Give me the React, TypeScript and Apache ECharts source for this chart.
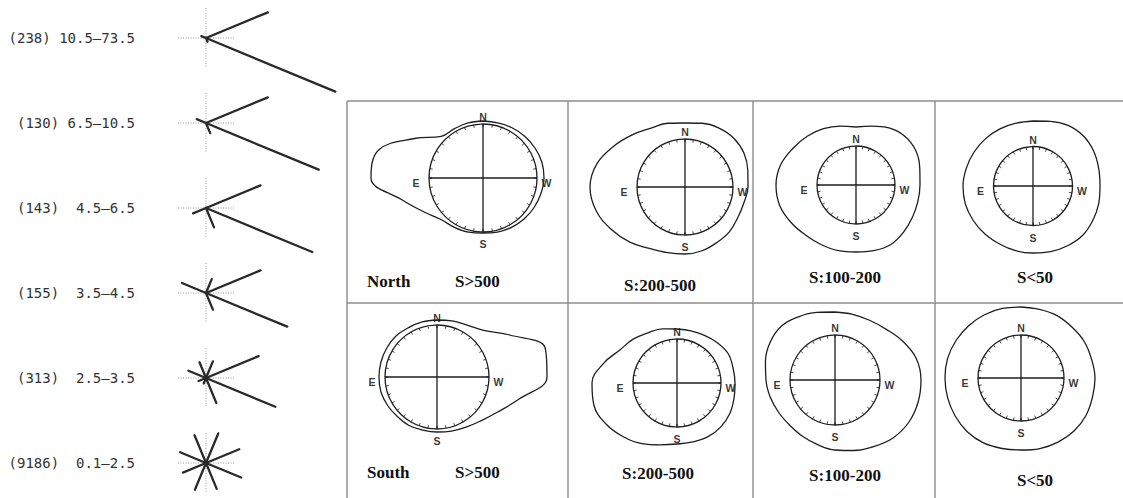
import React, { useEffect, useRef } from "react";
import * as echarts from "echarts";

// ---------- data ----------
const classCounts = [238, 130, 143, 155, 313, 9186];
const classRanges = ["10.5–73.5", "6.5–10.5", "4.5–6.5", "3.5–4.5", "2.5–3.5", "0.1–2.5"];
const spokeDirections = [22.5, 67.5, 112.5, 157.5, 202.5, 247.5, 292.5, 337.5];
const spokes1 = [67, 0, 0, 5, 0, 0, 4, 140];
const spokes2 = [67, 0, 0, 10, 0, 0, 11, 122];
const spokes3 = [59, 0, 0, 0, 14, 0, 21, 115];
const spokes4 = [59, 15, 0, 26, 0, 0, 18, 88];
const spokes5 = [57, 18, 17, 19, 8, 6, 27, 75];
const spokes6 = [36, 32, 30, 28, 25, 29, 28, 38];
const spokeLengths = [spokes1, spokes2, spokes3, spokes4, spokes5, spokes6];

const envelopeAngles = [0, 15, 30, 45, 60, 75, 90, 105, 120, 135, 150, 165, 180, 195, 210, 225, 240, 255, 270, 285, 300, 315, 330, 345];
const envNorth500 = [57, 57, 57, 59, 79, 108, 112, 84, 68, 59, 57, 56, 55, 56, 57, 58, 59, 60, 61, 61, 60, 59, 58, 57];
const envNorth200 = [64, 66, 68, 74, 82, 91, 95, 92, 85, 78, 71, 68, 67, 66, 64, 63, 61, 61, 63, 65, 68, 69, 68, 66];
const envNorth100 = [58, 61, 65, 69, 73, 78, 80, 79, 75, 71, 69, 68, 67, 68, 69, 67, 65, 64, 64, 66, 69, 69, 66, 61];
const envNorth50 = [65, 65, 66, 67, 68, 69, 70, 70, 69, 68, 67, 67, 67, 68, 69, 70, 69, 68, 67, 68, 70, 71, 70, 67];
const envSouth500 = [57, 57, 57, 58, 58, 58, 58, 58, 57, 56, 56, 55, 55, 56, 58, 62, 70, 85, 110, 112, 84, 66, 60, 58];
const envSouth200 = [54, 56, 58, 62, 66, 76, 85, 86, 82, 76, 70, 64, 61, 61, 62, 62, 61, 59, 58, 58, 59, 57, 55, 54];
const envSouth100 = [68, 70, 73, 76, 75, 72, 69, 67, 65, 64, 65, 67, 70, 73, 77, 82, 85, 86, 86, 84, 78, 72, 69, 68];
const envSouth50 = [71, 72, 73, 74, 75, 76, 76, 76, 76, 76, 75, 73, 72, 73, 74, 75, 75, 74, 74, 73, 73, 72, 72, 71];
const envelopes = [envNorth500, envNorth200, envNorth100, envNorth50, envSouth500, envSouth200, envSouth100, envSouth50];

const cellTitles = ["S>500", "S:200-500", "S:100-200", "S<50", "S>500", "S:200-500", "S:100-200", "S<50"];
const rowNames = ["North", "South"];
const compassLabels = ["N", "E", "S", "W"];
const compassAngles = [0, 90, 180, 270];

// ---------- layout ----------
const starCenters = [[206, 38], [206, 123], [206, 208], [206, 293], [206, 378], [206, 463]];
const labelGaps = [" ", " ", "  ", "  ", "  ", "  "];
const cellLayout = [
  { cx: 483, cy: 178, r: 54 },
  { cx: 685, cy: 187, r: 48 },
  { cx: 856, cy: 185, r: 39 },
  { cx: 1033, cy: 186, r: 39.5 },
  { cx: 437, cy: 377, r: 52 },
  { cx: 677, cy: 383, r: 44 },
  { cx: 835, cy: 380, r: 45 },
  { cx: 1021, cy: 378, r: 43 },
];
const titlePos = [
  { x: 455, y: 281, align: "left" },
  { x: 660, y: 285, align: "center" },
  { x: 845, y: 277, align: "center" },
  { x: 1035, y: 277, align: "center" },
  { x: 455, y: 472, align: "left" },
  { x: 658, y: 473, align: "center" },
  { x: 845, y: 475, align: "center" },
  { x: 1035, y: 480, align: "center" },
];
const rowNamePos = [{ x: 367, y: 281 }, { x: 367, y: 472 }];
const compassLabelPos = ["top", "left", "bottom", "right"];
const compassLabelDist = [1, 9, 6, 4];
const compassShift = [0, 5, 0, 5];
const OUTER_R = 130;

const INK = "#1e1e1e";
const GRID = "#8c8c8c";

function buildOption() {
  const polar: any[] = [];
  const angleAxis: any[] = [];
  const radiusAxis: any[] = [];
  const series: any[] = [];
  const graphic: any[] = [];

  // left star diagrams
  starCenters.forEach((c, i) => {
    const maxR = 150;
    polar.push({ center: [c[0], c[1]], radius: maxR });
    angleAxis.push({ polarIndex: i, type: "value", min: 0, max: 360, startAngle: 0, clockwise: false, show: false });
    radiusAxis.push({ polarIndex: i, type: "value", min: 0, max: maxR, show: false });
    series.push({
      type: "line", coordinateSystem: "polar", polarIndex: i, symbol: "none", silent: true, z: 1,
      data: [[28, 0], [28, 180]],
      lineStyle: { color: "#9a9a9a", width: 1, type: [1, 1.5] },
    });
    series.push({
      type: "line", coordinateSystem: "polar", polarIndex: i, symbol: "none", silent: true, z: 1,
      data: [[30, 90], [30, 270]],
      lineStyle: { color: "#9a9a9a", width: 1, type: [1, 1.5] },
    });
    spokeLengths[i].forEach((len, j) => {
      if (len <= 0) return;
      series.push({
        type: "line", coordinateSystem: "polar", polarIndex: i, symbol: "none", silent: true, z: 2,
        data: [[0, spokeDirections[j]], [len, spokeDirections[j]]],
        lineStyle: { color: "#2a2a2a", width: 2.3, cap: "round" },
      });
    });
    graphic.push({
      type: "text", x: 135, y: c[1],
      style: {
        text: `(${classCounts[i]})${labelGaps[i]}${classRanges[i]}`,
        textAlign: "right", textVerticalAlign: "middle",
        fontSize: 14, fontFamily: "DejaVu Sans Mono", fill: "#333",
      },
    });
  });

  // compass cells: one polar for the inner compass circle, one larger for the envelope
  cellLayout.forEach((cell, k) => {
    const pi = polar.length;
    polar.push({ center: [cell.cx, cell.cy], radius: cell.r });
    angleAxis.push({
      polarIndex: pi, type: "value", min: 0, max: 360, interval: 90, startAngle: 90, clockwise: false,
      axisLine: { show: true, lineStyle: { color: INK, width: 1.3 } },
      axisTick: { show: true, inside: true, length: 3, lineStyle: { color: INK, width: 1 } },
      minorTick: { show: true, splitNumber: 9, length: 3, lineStyle: { color: INK, width: 0.8 } },
      splitLine: { show: true, lineStyle: { color: INK, width: 1.3 } },
      axisLabel: { show: false },
      splitArea: { show: false },
    });
    radiusAxis.push({ polarIndex: pi, type: "value", min: 0, max: cell.r, show: false });

    const po = polar.length;
    polar.push({ center: [cell.cx, cell.cy], radius: OUTER_R });
    angleAxis.push({ polarIndex: po, type: "value", min: 0, max: 360, startAngle: 90, clockwise: false, show: false });
    radiusAxis.push({ polarIndex: po, type: "value", min: 0, max: OUTER_R, show: false });

    const env = envelopes[k];
    const data = envelopeAngles.map((a, i) => [env[i], a]);
    data.push([env[0], 360]);
    series.push({
      type: "line", coordinateSystem: "polar", polarIndex: po, symbol: "none", silent: true,
      smooth: 0.4, data, lineStyle: { color: INK, width: 1.3 },
    });
    series.push({
      type: "scatter", coordinateSystem: "polar", polarIndex: po, symbolSize: 1, silent: true,
      itemStyle: { color: "rgba(255,255,255,0)" },
      data: compassLabels.map((lab, i) => ({
        name: lab,
        value: [cell.r, compassAngles[i]],
        label: { position: compassLabelPos[i], distance: compassLabelDist[i], offset: [0, compassShift[i]] },
      })),
      label: {
        show: true, formatter: "{b}", fontSize: 10.5, fontWeight: "bold",
        color: "#000", fontFamily: "Liberation Sans",
      },
    });
    const tp = titlePos[k];
    graphic.push({
      type: "text", x: tp.x, y: tp.y,
      style: {
        text: cellTitles[k], textAlign: tp.align, textVerticalAlign: "middle",
        fontSize: 17, fontWeight: "bold", fontFamily: "Liberation Serif", fill: "#111",
      },
    });
  });

  rowNames.forEach((name, i) => {
    graphic.push({
      type: "text", x: rowNamePos[i].x, y: rowNamePos[i].y,
      style: {
        text: name, textAlign: "left", textVerticalAlign: "middle",
        fontSize: 17, fontWeight: "bold", fontFamily: "Liberation Serif", fill: "#111",
      },
    });
  });

  // table frame
  const lineStyle = { stroke: GRID, lineWidth: 1.4 };
  graphic.push({ type: "line", shape: { x1: 347, y1: 101, x2: 1123, y2: 101 }, style: lineStyle, z: 0 });
  graphic.push({ type: "line", shape: { x1: 347, y1: 303, x2: 1123, y2: 303 }, style: lineStyle, z: 0 });
  [347, 568, 753, 935].forEach((x) => {
    graphic.push({ type: "line", shape: { x1: x, y1: 101, x2: x, y2: 498 }, style: lineStyle, z: 0 });
  });

  return {
    animation: false,
    backgroundColor: "#ffffff",
    polar, angleAxis, radiusAxis, series, graphic,
  };
}

export default function App() {
  const ref = useRef<HTMLDivElement>(null);
  useEffect(() => {
    if (!ref.current) return;
    const chart = echarts.init(ref.current, undefined, { renderer: "svg" });
    chart.setOption(buildOption() as any);
    return () => chart.dispose();
  }, []);
  return (
    <div
      ref={ref}
      style={{ position: "absolute", left: 0, top: 0, width: 1123, height: 498, background: "#fff" }}
    />
  );
}
